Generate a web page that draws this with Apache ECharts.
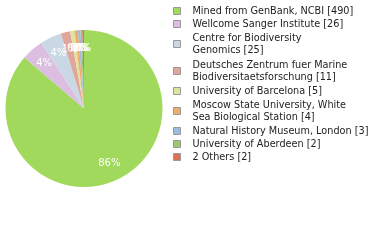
<!DOCTYPE html>
<html><head><meta charset="utf-8">
<script src="https://cdn.jsdelivr.net/npm/echarts@6/dist/echarts.min.js"></script>
<style>html,body{margin:0;padding:0;background:#fff}#c{width:380px;height:240px}</style>
</head><body><div id="c"></div>
<script>
const names = [
  "Mined from GenBank, NCBI [490]",
  "Wellcome Sanger Institute [26]",
  "Centre for Biodiversity\nGenomics [25]",
  "Deutsches Zentrum fuer Marine\nBiodiversitaetsforschung [11]",
  "University of Barcelona [5]",
  "Moscow State University, White\nSea Biological Station [4]",
  "Natural History Museum, London [3]",
  "University of Aberdeen [2]",
  "2 Others [2]"
];
const values = [490, 26, 25, 11, 5, 4, 3, 2, 2];
const colors = ["#a0d95c", "#dbbee0", "#c9d8e4", "#e0a59b", "#dfe49c", "#f1ab6c", "#9dbce0", "#9cc96f", "#dd7156"];

const total = values.reduce((a, b) => a + b, 0);
const data = names.map((n, i) => ({ name: n, value: values[i], itemStyle: { color: colors[i] } }));
const chart = echarts.init(document.getElementById('c'), null, { renderer: 'canvas' });
const center = [84, 108.5];
chart.setOption({
  animation: false,
  legend: {
    orient: 'vertical',
    left: 173,
    top: 5,
    padding: 0,
    itemWidth: 7,
    itemHeight: 7,
    itemGap: 1,
    icon: 'rect',
    itemStyle: { borderColor: '#999', borderWidth: 1 },
    textStyle: { fontFamily: 'DejaVu Sans', fontSize: 9.7, color: '#222', lineHeight: 12, padding: [0, 0, 0, 7] },
    data: names.map(n => n.indexOf('\n') >= 0
      ? { name: n, textStyle: { padding: [1, 0, 1, 7] } }
      : { name: n })
  },
  series: [
    {
      type: 'pie',
      center: center,
      radius: [0, 78.5],
      startAngle: 90,
      clockwise: true,
      label: { show: false },
      labelLine: { show: false },
      emphasis: { disabled: true },
      data: data
    },
    {
      type: 'pie',
      center: center,
      radius: [36, 79],
      startAngle: 90,
      clockwise: true,
      silent: true,
      legendHoverLink: false,
      avoidLabelOverlap: false,
      labelLayout: { hideOverlap: false },
      itemStyle: { color: 'rgba(0,0,0,0)' },
      label: {
        show: true,
        position: 'inside',
        color: '#fff',
        fontFamily: 'DejaVu Sans',
        fontSize: 10,
        formatter: p => Math.floor(p.value / total * 100) + '%'
      },
      labelLine: { show: false },
      data: names.map((n, i) => ({ name: n + ' ', value: values[i] }))
    }
  ]
});
</script></body></html>
